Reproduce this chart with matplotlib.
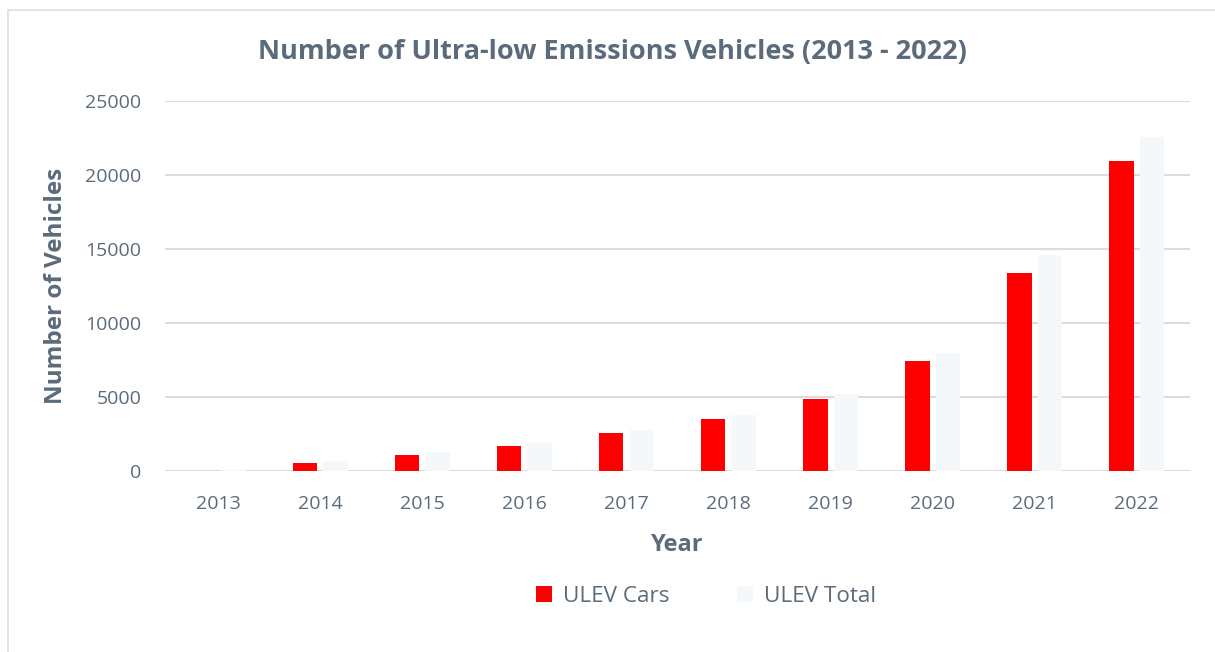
import matplotlib
matplotlib.use("Agg")
import matplotlib.pyplot as plt
import numpy as np
from matplotlib.patches import Rectangle

years = ["2013", "2014", "2015", "2016", "2017", "2018", "2019", "2020", "2021", "2022"]
ulev_cars = [0, 520, 1080, 1690, 2600, 3500, 4850, 7400, 13400, 20950]
ulev_total = [60, 700, 1300, 1900, 2750, 3800, 5200, 8000, 14600, 22600]
yticks = [0, 5000, 10000, 15000, 20000, 25000]

text_col = "#5b6b7b"
plt.rcParams['font.family'] = ['Open Sans', 'DejaVu Sans']

fig = plt.figure(figsize=(12.15, 6.52), dpi=100)
fig.patches.append(Rectangle((8/1215, -0.1), 1.2, (1 - 10/652) + 0.1, transform=fig.transFigure,
                             fill=False, edgecolor="#d9dde2", lw=1.2, zorder=0))
ax = fig.add_axes([165/1215, 1 - 471/652, (1190 - 165)/1215, (471 - 101)/652])

x = np.arange(len(years))
w = 0.24
ax.bar(x - 0.15, ulev_cars, width=w, color="#ff0000", label="ULEV Cars", zorder=3)
ax.bar(x + 0.15, ulev_total, width=w, color="#f5f8fb", label="ULEV Total", zorder=3)

ax.set_ylim(0, 25000)
ax.set_xlim(-0.52, len(years) - 0.48)
ax.set_yticks(yticks)
ax.set_yticklabels([str(v) for v in yticks])
ax.set_xticks(x)
ax.set_xticklabels(years)
ax.grid(axis="y", color="#d9dde2", lw=1.5, zorder=0)
for s in ax.spines.values():
    s.set_visible(False)
ax.tick_params(length=0, colors=text_col, labelsize=14)
ax.tick_params(axis="y", pad=17)
ax.tick_params(axis="x", pad=17)

ax.set_xlabel("Year", fontsize=17, fontweight="bold", color=text_col, labelpad=15)
ax.set_ylabel("Number of Vehicles", fontsize=17.5, fontweight="bold", color=text_col, labelpad=12)
fig.text(612/1215, 1 - 52/652, "Number of Ultra-low Emissions Vehicles (2013 - 2022)",
         ha="center", va="center", fontsize=19.5, fontweight="bold", color=text_col)

leg = fig.legend(loc="center", bbox_to_anchor=(706/1215, 1 - 596/652), ncol=2, frameon=False,
                 fontsize=16.2, handlelength=0.7, handleheight=0.7, columnspacing=3.0, handletextpad=0.5)
for t in leg.get_texts():
    t.set_color(text_col)

fig.savefig("out.png", dpi=100)
